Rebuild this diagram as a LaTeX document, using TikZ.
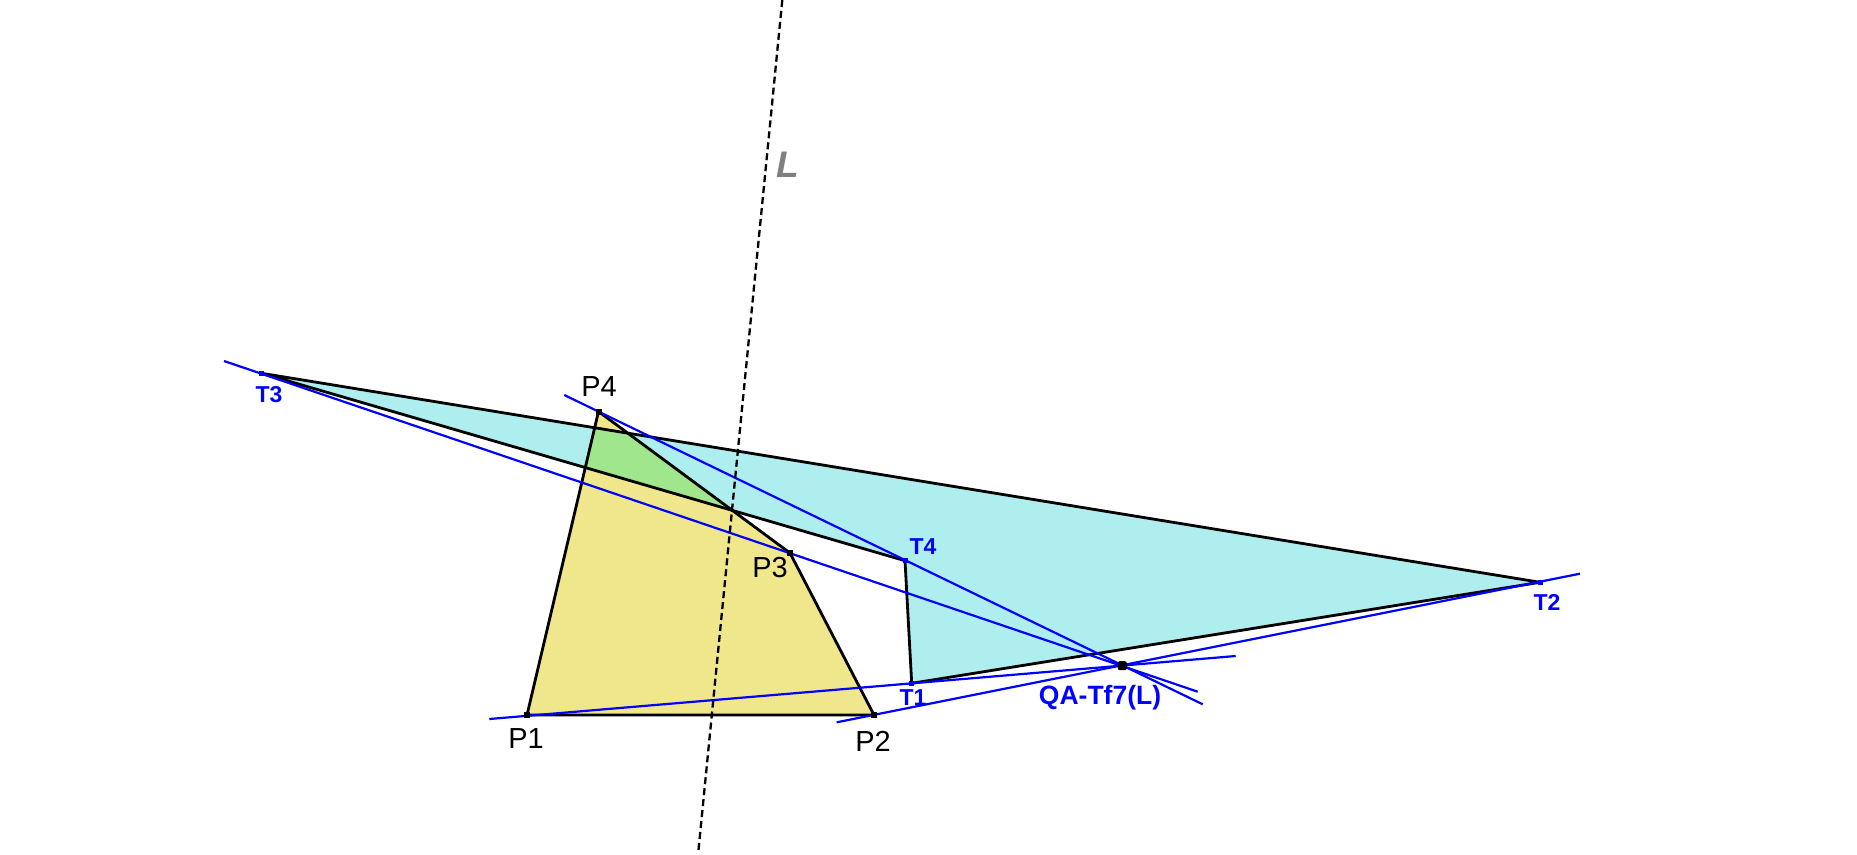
\documentclass[tikz,border=0pt]{standalone}
\usepackage{fontspec}
\setmainfont{Liberation Sans}
\begin{document}
\begin{tikzpicture}[x=1pt,y=-1pt,
  edge/.style={black,line width=2.8pt,line join=round},
  tline/.style={blue,line width=2.2pt},
  pmark/.style={fill=black,minimum size=6pt,inner sep=0pt,draw=none,rectangle},
  tmark/.style={fill=blue,minimum size=5pt,inner sep=0pt,draw=none,rectangle},
  plabel/.style={font=\fontsize{29}{30}\selectfont,text=black,inner sep=0pt},
  tlabel/.style={font=\fontsize{23}{24}\selectfont\bfseries,text=blue,inner sep=0pt}]
\definecolor{khakiF}{RGB}{240,230,140}
\definecolor{cyanF}{RGB}{175,238,238}
\definecolor{greenF}{RGB}{160,230,140}
\definecolor{grayL}{RGB}{128,128,128}
\useasboundingbox (0,0) rectangle (1857,854);
% points
\coordinate (P1) at (527,715);
\coordinate (P2) at (874,715);
\coordinate (P3) at (790,553);
\coordinate (P4) at (598.5,411.5);
\coordinate (T1) at (911.7,683.3);
\coordinate (T2) at (1540,582.3);
\coordinate (T3) at (261.7,373.3);
\coordinate (T4) at (905,560.7);
\coordinate (Q) at (1122.3,665.7);
% line ends
\coordinate (a1) at (224,361);
\coordinate (b1) at (1197.7,691.7);
\coordinate (a2) at (564.3,395);
\coordinate (b2) at (1202.7,704.3);
\coordinate (a3) at (489.3,719);
\coordinate (b3) at (1235.7,656);
\coordinate (a4) at (836.7,722.3);
\coordinate (b4) at (1580,573.7);
\coordinate (La) at (782.3,0);
\coordinate (Lb) at (698.3,852);
% fills
\fill[cyanF] (T1) -- (T2) -- (T3) -- (T4) -- cycle;
\fill[khakiF] (P1) -- (P2) -- (P3) -- (P4) -- cycle;
\begin{scope}
  \clip (P1) -- (P2) -- (P3) -- (P4) -- cycle;
  \fill[greenF] (T1) -- (T2) -- (T3) -- (T4) -- cycle;
\end{scope}
% black edges
\draw[edge] (P1) -- (P2) -- (P3) -- (P4) -- cycle;
\draw[edge] (T1) -- (T2) -- (T3) -- (T4) -- cycle;
% blue lines
\draw[tline] (a1) -- (b1);
\draw[tline] (a2) -- (b2);
\draw[tline] (a3) -- (b3);
\draw[tline] (a4) -- (b4);
% dashed L
\draw[black,line width=2.3pt,dash pattern=on 7pt off 4pt] (La) -- (Lb);
% markers
\foreach \p in {P1,P2,P3,P4} \node[pmark] at (\p) {};
\foreach \p in {T1,T2,T3,T4} \node[tmark] at (\p) {};
\node[fill=black,minimum size=9pt,inner sep=0pt,rounded corners=2pt,rectangle] (Qm) at (Q) {};
% labels
\node[plabel] (lP1) at (526,739) {P1};
\node[plabel] (lP2) at (873,741) {P2};
\node[plabel] (lP3) at (770,568) {P3};
\node[plabel] (lP4) at (599,387) {P4};
\node[tlabel] (lT1) at (913,698) {T1};
\node[tlabel] (lT2) at (1547,602) {T2};
\node[tlabel] (lT3) at (269,395) {T3};
\node[tlabel] (lT4) at (923,547) {T4};
\node[tlabel,font=\fontsize{26.5}{28}\selectfont\bfseries] (lQ) at (1100,698) {QA-Tf7(L)};
\node[font=\fontsize{37}{38}\selectfont\bfseries\itshape,text=grayL,inner sep=0pt] (lL) at (788,165) {L};
\end{tikzpicture}
\end{document}
